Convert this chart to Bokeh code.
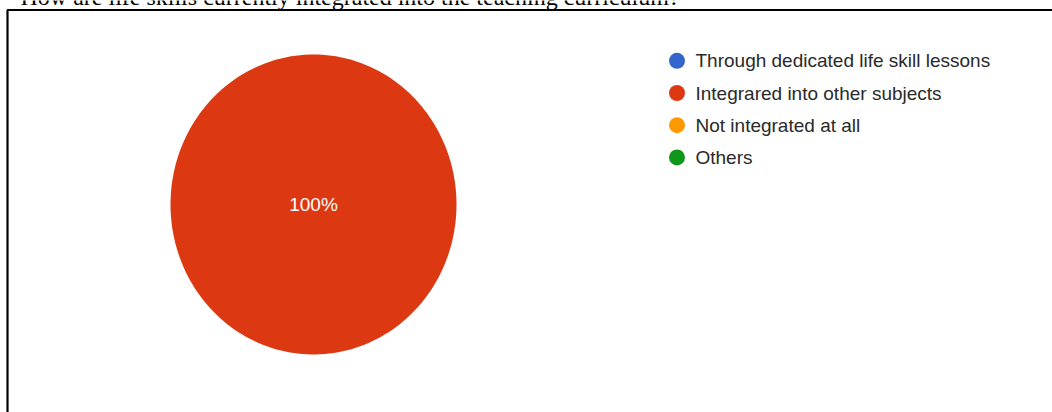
import numpy as np
from bokeh.plotting import figure
from bokeh.models import Range1d, ColumnDataSource
from bokeh.core.properties import value
from bokeh.embed import file_html
from bokeh.resources import INLINE

title = "How are life skills currently integrated into the teaching curriculum?"
categories = ["Through dedicated life skill lessons", "Integrared into other subjects",
              "Not integrated at all", "Others"]
values = [0, 100, 0, 0]
colors = ["#3366CC", "#DC3912", "#FF9900", "#109618"]

W, H = 1052, 412
p = figure(width=W, height=H, output_backend="svg", toolbar_location=None,
           x_range=Range1d(0, W), y_range=Range1d(H, 0), min_border=0)
p.axis.visible = False
p.grid.visible = False
p.outline_line_color = None
p.background_fill_color = "white"
p.border_fill_color = "white"

# title (cut off at top, as in the source document)
p.text(x=[20], y=[-3.5], text=[title], text_font=value("Liberation Serif"),
       text_font_size="24px", text_color="black", text_baseline="alphabetic")

# frame (document box)
p.quad(left=7, right=W + 20, top=9.5, bottom=H + 20, fill_color=None,
       line_color="black", line_width=2.2)

# pie (elliptical, start at 12 o'clock, clockwise)
cx, cy, rx, ry = 313, 204, 143, 150
total = float(sum(values))
fracs = np.array(values) / total
ends = np.cumsum(fracs)
starts = ends - fracs
xs, ys, cols = [], [], []
for s, e, c in zip(starts, ends, colors):
    if e - s <= 0:
        continue
    t = np.linspace(s, e, 200) * 2 * np.pi
    px = cx + rx * np.sin(t)
    py = cy - ry * np.cos(t)
    if e - s < 1:
        px = np.concatenate([[cx], px])
        py = np.concatenate([[cy], py])
    xs.append(list(px)); ys.append(list(py)); cols.append(c)
p.patches(xs=xs, ys=ys, fill_color=cols, line_color=None)

# slice labels
for s, e, f in zip(starts, ends, fracs):
    if f <= 0:
        continue
    mid = (s + e) / 2 * 2 * np.pi
    k = 0 if f >= 0.999 else 0.6
    p.text(x=[cx + k * rx * np.sin(mid)], y=[cy - k * ry * np.cos(mid)],
           text=[f"{round(f * 100)}%"], text_font=value("Liberation Sans"),
           text_font_size="19px", text_color="white", text_align="center",
           text_baseline="middle")

# legend
lx, ly0, dy = 676.5, 60.3, 32.2
rows = np.arange(len(categories))
src = ColumnDataSource(dict(x=[lx] * len(categories), y=list(ly0 + rows * dy),
                            tx=[lx + 18.5] * len(categories),
                            label=categories, color=colors))
p.scatter(x="x", y="y", size=16, fill_color="color", line_color=None, source=src)
p.text(x="tx", y="y", text="label", source=src, text_font=value("Liberation Sans"),
       text_font_size="19px", text_color="#2a2a2a", text_baseline="middle")

open("out.html", "w").write(file_html(p, INLINE))
